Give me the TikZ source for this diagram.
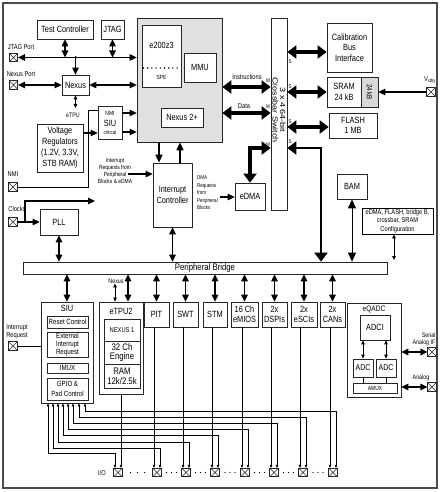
\documentclass[tikz,border=0pt]{standalone}
\usepackage{fontspec}
\setmainfont{Liberation Sans}[FakeStretch=0.82]
\newfontfamily\widefont{Liberation Sans}[FakeStretch=1.2]
\usetikzlibrary{arrows.meta,calc}
\newcommand{\myfs}[2]{\fontsize{#1}{#2}\selectfont}
\newcommand{\mybox}[7][]{\node[box,minimum width={(#4)-(#2)},minimum height={(#5)-(#3)},#1] (#6) at ({((#2)+(#4))/2},{((#3)+(#5))/2}) {#7};}
\begin{document}
\begin{tikzpicture}[x=1pt,y=-1pt,
 box/.style={draw=black!85,line width=0.7pt,fill=white,inner sep=0pt,align=center,font=\myfs{9}{10.5}},
 lab/.style={inner sep=0pt,align=center,font=\myfs{7}{8}},
 pin/.style={draw=black!85,line width=0.6pt,minimum size=8.5pt,inner sep=0pt,fill=white,
   path picture={\draw[line width=0.4pt] (path picture bounding box.south west) -- (path picture bounding box.north east) (path picture bounding box.north west) -- (path picture bounding box.south east);}},
 sig1/.style={line width=1.1pt,-{Triangle[length=7pt,width=6.5pt]}},
 sig2/.style={line width=1.1pt,{Triangle[length=7pt,width=6.5pt]}-{Triangle[length=7pt,width=6.5pt]}},
 med/.style={line width=1.6pt,-{Triangle[length=8pt,width=7pt]}},
 med2/.style={line width=1.6pt,{Triangle[length=7pt,width=6.5pt]}-{Triangle[length=7pt,width=6.5pt]}},
 small2/.style={line width=0.8pt,{Triangle[length=4pt,width=3.5pt]}-{Triangle[length=4pt,width=3.5pt]}},
 thinbig/.style={line width=1pt,{Triangle[length=9pt,width=8pt]}-{Triangle[length=9pt,width=8pt]}},
 bus/.style={line width=3.5pt,{Triangle[length=9pt,width=13pt]}-{Triangle[length=9pt,width=13pt]}},
 wire/.style={line width=0.6pt,-{Triangle[length=3pt,width=2.5pt]}},
 wire2/.style={line width=0.6pt,{Triangle[length=3pt,width=2.5pt]}-{Triangle[length=3pt,width=2.5pt]}},
 mlab/.style={inner sep=0pt,font=\myfs{5.5}{6}}
]
\useasboundingbox (0,0) rectangle (441,492);
\draw[draw=black!70,line width=1.3pt] (3,3) rectangle (437,488);

% core
\mybox[fill=black!12]{137}{18}{222}{142}{core}{}
\mybox{142}{25}{181}{87}{e200}{}
\node[lab,font=\myfs{9}{10}] at (161.5,45) {e200z3};
\draw[line width=1.6pt,dash pattern=on 0pt off 4.2pt,line cap=round] (143.5,68) -- (180,68);
\node[lab,font=\myfs{6}{7}] at (161.5,77) {SPE};
\mybox{184}{53}{216}{82}{mmu}{MMU}
\mybox{161}{108}{203}{127}{nexus2}{Nexus 2+}

% left top
\mybox{37}{20}{93}{39}{testc}{Test Controller}
\mybox{101}{20}{124}{39}{jtag}{JTAG}
\mybox{62}{75}{89}{95}{nexus}{Nexus}
\mybox{98}{106}{122}{139}{siunmi}{}
\node[lab,font=\myfs{6}{7}] at (110,113) {NMI};
\node[lab,font=\myfs{9}{10}] at (110,123) {SIU};
\node[lab,font=\myfs{5.5}{6}] at (110,132.5) {critical};
\mybox[font=\myfs{9}{11}]{37}{124}{83}{172}{vreg}{Voltage\\Regulators\\(1.2V, 3.3V,\\STB RAM)}

\node[pin] (jtagp) at (13.5,57.5) {};
\node[lab] at (21,47) {JTAG Port};
\node[pin] (nexp) at (13.5,85) {};
\node[lab] at (21,74) {Nexus Port};
\node[pin] (nmip) at (13,187) {};
\node[lab] at (13,174) {NMI};
\node[pin] (clkp) at (13,222) {};
\node[lab] at (17,209) {Clocks};
\node[pin] (irqp) at (13,346) {};
\node[lab] at (17,332) {Interrupt\\Request};

\draw[sig2] (jtagp.east) -- (core.west |- jtagp);
\draw[sig2] (testc.south) -- (testc.south |- jtagp);
\draw[sig2] (jtag.south) -- (jtag.south |- jtagp);
\fill (nexus.north |- jtagp) circle (1.5pt);
\draw[sig1] (nexus.north |- jtagp) -- (nexus.north);
\draw[sig2] (nexp.east) -- (nexus.west);
\draw[sig2] (nexus.east) -- (core.west |- nexus.east);
\coordinate (etpuc) at (75.5,108);
\draw[small2] (nexus.south) -- (etpuc);
\node[lab,font=\myfs{6.5}{7}] at (73,115.5) {eTPU};
\draw[sig1] (siunmi.east |- 0,113) -- (core.west |- 0,113);
\draw[sig1] (siunmi.east |- 0,132) -- (core.west |- 0,132);
\draw[sig1] (vreg.east |- 0,133) -- (siunmi.west |- 0,133);
\draw[line width=0.8pt] (nmip.east) -- (88,187) -- (88,110) -- (siunmi.west |- 0,110);

% buses to crossbar
\mybox{271}{18}{287}{210}{xbar}{}
\node[rotate=-90,align=center,inner sep=0pt,font=\widefont\myfs{7.5}{7.5}] at (279,110) {3 x 4 64-bit\\Crossbar Switch};
\draw[bus] (core.east |- 0,87) -- (xbar.west |- 0,87);
\node[lab,font=\myfs{7}{7}] at (247,77) {Instructions};
\node[mlab] at (268,81) {M};
\draw[bus] (core.east |- 0,113) -- (xbar.west |- 0,113);
\node[lab,font=\myfs{7}{7}] at (244,106) {Data};
\node[mlab] at (268,107) {M};
\node[mlab] at (268,145) {M};

% memories
\mybox{327}{23}{372}{72}{cal}{Calibration\\Bus\\Interface}
\mybox{327}{77}{378}{107}{sram}{}
\node[lab,font=\myfs{9}{10.5}] at (344,92) {SRAM\\24 kB};
\mybox[fill=black!15]{361}{77}{378}{107}{sramb}{}
\node[rotate=-90,lab,font=\myfs{7.5}{8}] at (369.5,92) {24 kB};
\mybox{329}{113}{377}{138}{flash}{FLASH\\1 MB}
\draw[bus] (xbar.east |- 0,52) -- (cal.west |- 0,52);
\draw[bus] (xbar.east |- 0,92) -- (sram.west |- 0,92);
\draw[bus] (xbar.east |- 0,127) -- (flash.west |- 0,127);
\node[mlab] at (290,62) {S};
\node[mlab] at (290,87) {S};
\node[mlab] at (290,122) {S};
\node[mlab] at (290,142) {S};
\node[pin] (vstby) at (431,92) {};
\node[lab] at (430,80) {V\textsubscript{stby}};
\draw[sig1] (vstby.west) -- (sram.east |- vstby);

% interrupt controller, eDMA
\mybox{153}{163}{192}{227}{intc}{Interrupt\\Controller}
\mybox{235}{183}{265}{210}{edma}{eDMA}
\draw[med] (core.south -| 159,0) -- (intc.north -| 159,0);
\draw[med] (intc.north -| 180,0) -- (core.south -| 180,0);
\node[lab,font=\myfs{6}{6.7}] at (115,171) {Interrupt\\Requests from\\Peripheral\hspace{14pt}\\Blocks \& eDMA};
\coordinate (irqs) at (128,174);
\draw[sig1] (irqs) -- (intc.west |- irqs);
\node[inner sep=0pt,align=left,anchor=north west,font=\myfs{5.5}{7.5}] at (197,176) {DMA\\Requests\\from\\Peripheral\\Blocks};
\coordinate (dmas) at (220,197);
\draw[sig1] (dmas) -- (edma.west |- dmas);
\draw[bus] (xbar.west |- 0,148) -| (edma.north);

% BAM, config
\mybox{337}{174}{367}{199}{bam}{BAM}
\mybox[font=\myfs{7}{8.5},draw=black,line width=0.9pt]{362}{208}{433}{234}{cfg}{eDMA, FLASH, bridge B,\\crossbar, SRAM\\Configuration}

% PLL and bridge
\mybox{40}{209}{78}{235}{pll}{PLL}
\mybox[font=\myfs{9.5}{10}]{23}{262}{387}{274}{bridge}{Peripheral Bridge}
\draw[sig1] (clkp.east) -- (pll.west |- clkp);
\coordinate (clkj) at (25,222);
\coordinate (clko) at (95,201);
\draw[sig1] (clkj) |- (clko);
\fill (clkj) circle (1.3pt);
\draw[med2] (pll.south) -- (bridge.north -| pll.south);
\draw[med2] (intc.south) -- (bridge.north -| intc.south);
\draw[bus,line width=2.5pt] (xbar.east |- 0,148) -| (bridge.north -| 321,0);
\draw[thinbig] (bam.south) -- (bridge.north -| bam.south);
\coordinate (cfgend) at (394,260);
\draw[small2] (cfg.south -| cfgend) -- (cfgend);

% SIU
\mybox{41}{302}{93}{403}{siu}{}
\node[lab,font=\myfs{9}{10}] at (67,308.5) {SIU};
\mybox[font=\myfs{7.5}{8}]{47}{316}{88}{328}{reset}{Reset Control}
\mybox[font=\myfs{7.5}{8}]{47}{332}{88}{357}{extint}{External\\Interrupt\\Request}
\mybox[font=\myfs{7.5}{8}]{47}{363}{88}{373}{imux}{IMUX}
\mybox[font=\myfs{7.5}{10}]{47}{378}{88}{400}{gpio}{GPIO \&\\Pad Control}
\draw[med2] (bridge.south -| siu.north) -- (siu.north);
\draw[line width=0.7pt] (irqp.east) -- (siu.west |- irqp);

% eTPU2
\mybox{99}{302}{143}{394}{etpu}{}
\node[lab,font=\myfs{9}{10}] at (121,311.5) {eTPU2};
\mybox[font=\myfs{7}{8}]{104}{319}{140}{341}{nx1}{NEXUS 1}
\mybox[font=\myfs{9.5}{9}]{104}{341}{140}{364}{eng}{32 Ch\\Engine}
\mybox[font=\myfs{9.5}{10}]{104}{364}{140}{388}{ram}{RAM\\12k/2.5k}
\draw[med2] (bridge.south -| 128,0) -- (etpu.north -| 128,0);
\node[lab,font=\myfs{6.5}{7}] (nxl) at (116,281) {Nexus};
\draw[small2] (nxl.south -| 115,0) -- (etpu.north -| 115,0);

% peripherals
\mybox{144}{302}{169}{327}{pit}{PIT}
\mybox{173}{302}{198}{327}{swt}{SWT}
\mybox{203}{302}{227}{327}{stm}{STM}
\mybox[font=\myfs{9}{10.5}]{231}{302}{258}{327}{emios}{16 Ch\\eMIOS}
\mybox[font=\myfs{9}{10.5}]{262}{302}{287}{327}{dspi}{2x\\DSPIs}
\mybox[font=\myfs{9}{10.5}]{291}{302}{317}{327}{esci}{2x\\eSCIs}
\mybox[font=\myfs{9}{10.5}]{320}{302}{345}{327}{can}{2x\\CANs}
\foreach \p in {pit,swt,stm,emios,dspi,esci,can}
  \draw[med2] (bridge.south -| \p.north) -- (\p.north);

% eQADC
\mybox{347}{303}{401}{397}{eqadc}{}
\node[lab,font=\myfs{8}{9}] at (374,309) {eQADC};
\mybox{360}{315}{390}{340}{adci}{ADCI}
\mybox[font=\myfs{8.5}{9}]{353}{359}{373}{377}{adc1}{ADC}
\mybox[font=\myfs{8.5}{9}]{376}{359}{396}{377}{adc2}{ADC}
\mybox[font=\myfs{6}{7}]{353}{383}{397}{393}{amux}{AMUX}
\draw[small2] (adci.south -| adc1.north) -- (adc1.north);
\draw[small2] (adci.south -| adc2.north) -- (adc2.north);
\draw[line width=0.6pt] (adc1.south) -- (amux.north -| adc1.south);
\draw[line width=0.6pt] (adc2.south) -- (amux.north -| adc2.south);
\node[pin] (sap) at (432,352) {};
\node[lab,align=right,font=\myfs{6.5}{7}] at (424,339) {Serial\\Analog IF};
\node[pin] (anp) at (432,387) {};
\node[lab,font=\myfs{6.5}{7}] at (421,378) {Analog};
\draw[med2] (eqadc.east |- sap) -- (sap.west);
\draw[med2] (eqadc.east |- anp) -- (anp.west);

% I/O pins
\foreach \i/\x in {1/118,2/157,3/186,4/215,5/245,6/274,7/303,8/333} {
  \node[pin] (io\i) at (\x,472.5) {};
  \coordinate (io\i L) at ($(io\i.north)+(-3,0)$);
  \coordinate (io\i R) at ($(io\i.north)+(3,0)$);
}
\node[lab] at (102,472.5) {I/O};
\foreach \a/\b/\d in {118/157/7,157/186/5,186/215/5,215/245/5,245/274/5,274/303/5,303/333/5}
  \foreach \k in {-1,0,1} \fill ({(\a+\b)/2+\k*\d},472.5) circle (0.7pt);

\draw[wire] (etpu.south -| io1R) -- (io1R);
\draw[wire] (pit.south -| io2L) -- (io2L);
\draw[wire] (swt.south -| io3L) -- (io3L);
\draw[wire] (stm.south -| io4L) -- (io4L);
\draw[wire] (emios.south -| io5L) -- (io5L);
\draw[wire] (dspi.south -| io6L) -- (io6L);
\draw[wire] (esci.south -| io7L) -- (io7L);
\draw[wire] (can.south -| io8L) -- (io8L);

\draw[wire2] (siu.south -| 48,0) -- (48,453) -| (io1L);
\draw[wire2] (siu.south -| 53,0) -- (53,448) -| (io2R);
\draw[wire2] (siu.south -| 58,0) -- (58,442) -| (io3R);
\draw[wire2] (siu.south -| 63,0) -- (63,435) -| (io4R);
\draw[wire2] (siu.south -| 68,0) -- (68,429) -| (io5R);
\draw[wire2] (siu.south -| 73,0) -- (73,423) -| (io6R);
\draw[wire2] (siu.south -| 79,0) -- (79,417) -| (io7R);
\draw[wire2] (siu.south -| 85,0) -- (85,411) -| (io8R);
\end{tikzpicture}
\end{document}
